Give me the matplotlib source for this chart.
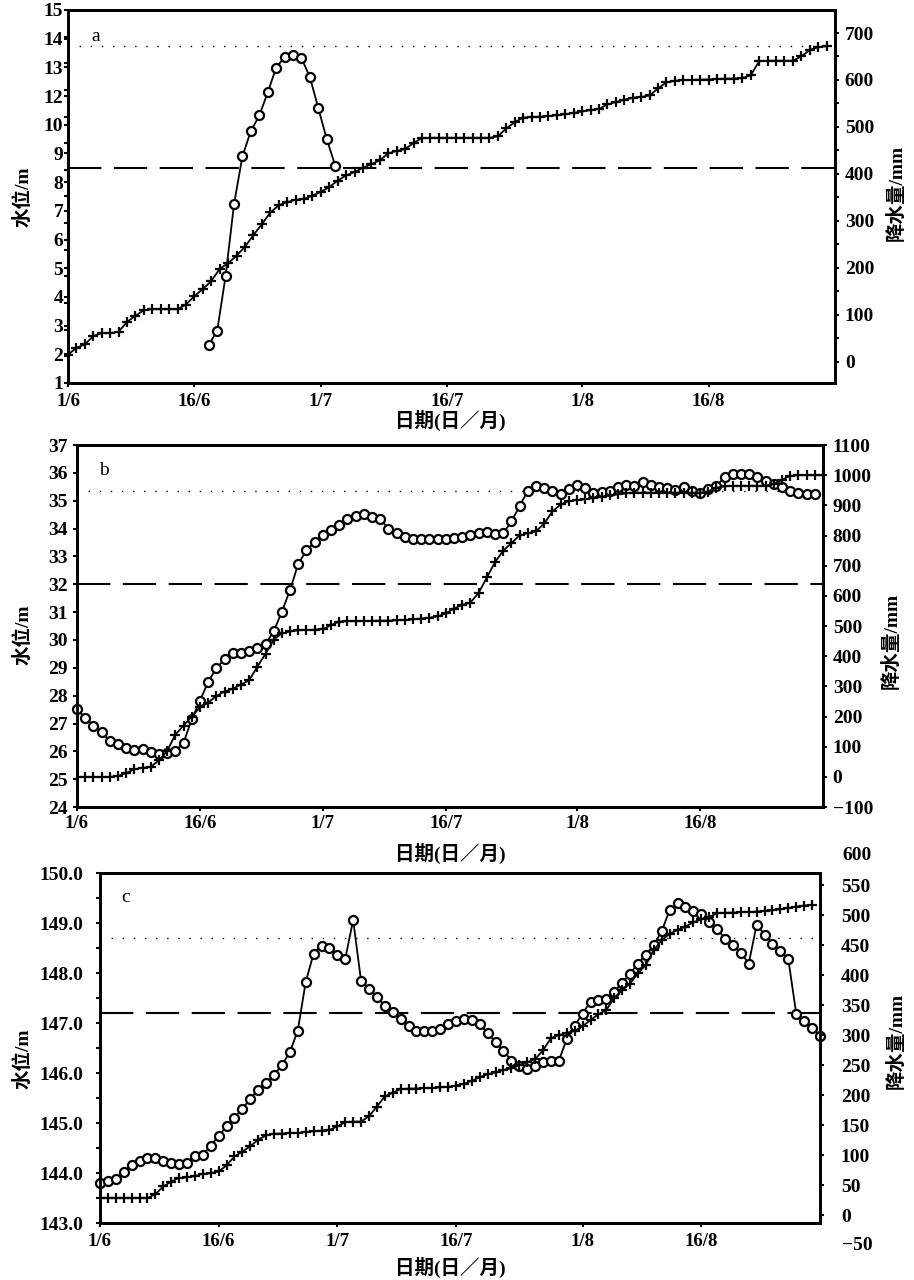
import matplotlib
matplotlib.use('Agg')
import matplotlib.pyplot as plt
import matplotlib.transforms as mtransforms
import numpy as np

plt.rcParams['font.family'] = ['Liberation Serif', 'Noto Sans CJK SC', 'DejaVu Sans']
plt.rcParams['font.weight'] = 'bold'
plt.rcParams['axes.linewidth'] = 2.0

# day number counted from 1 June
date_ticks = [0, 15, 30, 45, 61, 76]
date_labels = ['1/6', '16/6', '1/7', '16/7', '1/8', '16/8']

# ---- panel a ----
a_rain = [15, 30, 37, 55, 61, 61, 64, 85, 98, 110, 112, 112, 112, 112, 122, 140,
          155, 172, 198, 210, 226, 245, 270, 293, 318, 333, 340, 345, 347, 354,
          362, 372, 386, 397, 404, 413, 421, 429, 444, 449, 453, 466, 476, 477,
          477, 477, 477, 477, 477, 477, 477, 480, 497, 510, 520, 521, 522, 523,
          525, 527, 530, 533, 536, 538, 548, 553, 558, 562, 564, 567, 582, 595,
          598, 600, 600, 601, 601, 602, 603, 603, 604, 610, 640, 641, 641, 641,
          641, 650, 664, 670, 672]
a_lvl_start = 16.7
a_lvl = [2.43, 2.96, 5.02, 7.72, 9.52, 10.46, 11.04, 11.91, 12.84, 13.23, 13.32,
         13.19, 12.48, 11.31, 10.15, 9.16]
a_dotted = 13.65
a_dashed = 9.06
a_left_labels = ['1', '2', '3', '4', '5', '6', '7', '8', '9', '10', '12', '13', '14', '15']
a_right_ticks = [0, 100, 200, 300, 400, 500, 600, 700]

# ---- panel b ----
b_rain = [0, 0, 0, 0, 0, 3, 13, 25, 30, 33, 55, 86, 140, 170, 200, 230, 246, 268,
          283, 292, 306, 320, 365, 408, 455, 476, 482, 486, 487, 488, 490, 503,
          515, 516, 516, 517, 517, 518, 518, 519, 520, 522, 525, 528, 532, 542,
          558, 570, 578, 610, 661, 712, 750, 775, 801, 808, 814, 840, 880, 903,
          914, 918, 920, 925, 928, 933, 937, 940, 942, 942, 942, 942, 942, 942,
          942, 942, 942, 946, 959, 963, 965, 965, 965, 965, 965, 970, 985, 998,
          1000, 1000, 1000, 1000]
b_lvl = [27.51, 27.21, 26.91, 26.69, 26.37, 26.25, 26.13, 26.04, 26.09, 25.97,
         25.89, 25.95, 26.01, 26.31, 27.15, 27.81, 28.50, 28.98, 29.31, 29.53,
         29.52, 29.61, 29.71, 29.85, 30.31, 31.02, 31.80, 32.74, 33.22, 33.52,
         33.78, 33.94, 34.14, 34.36, 34.44, 34.54, 34.42, 34.34, 34.00, 33.84,
         33.70, 33.64, 33.62, 33.62, 33.62, 33.64, 33.68, 33.71, 33.77, 33.83,
         33.89, 33.80, 33.83, 34.26, 34.81, 35.36, 35.54, 35.45, 35.36, 35.23,
         35.42, 35.56, 35.44, 35.29, 35.32, 35.36, 35.48, 35.56, 35.54, 35.66,
         35.56, 35.48, 35.44, 35.39, 35.48, 35.36, 35.29, 35.42, 35.54, 35.84,
         35.97, 35.97, 35.97, 35.84, 35.72, 35.60, 35.48, 35.36, 35.29, 35.23,
         35.23]
b_dotted = 35.35
b_dashed = 32.02
b_left_ticks = list(range(24, 38))
b_right_ticks = list(range(-100, 1101, 100))

# ---- panel c ----
c_rain = [29, 29, 29, 29, 29, 29, 29, 35, 48, 56, 62, 63, 65, 69, 70, 73, 83, 98,
          106, 115, 126, 133, 136, 136, 137, 137, 139, 140, 141, 142, 148, 155,
          156, 156, 165, 181, 198, 204, 210, 211, 211, 212, 212, 213, 214, 216,
          219, 224, 230, 235, 238, 242, 245, 250, 255, 260, 275, 295, 300, 304,
          307, 315, 325, 335, 342, 362, 375, 386, 403, 417, 442, 458, 469, 475,
          481, 488, 493, 497, 503, 504, 504, 505, 505, 506, 507, 508, 510, 512,
          514, 516, 517]
c_lvl = [143.80, 143.84, 143.88, 144.02, 144.17, 144.24, 144.31, 144.31, 144.24,
         144.21, 144.19, 144.21, 144.34, 144.37, 144.55, 144.74, 144.94, 145.11,
         145.29, 145.48, 145.67, 145.81, 145.96, 146.16, 146.42, 146.85, 147.82,
         148.39, 148.55, 148.51, 148.37, 148.29, 149.06, 147.84, 147.69, 147.52,
         147.35, 147.22, 147.09, 146.95, 146.85, 146.85, 146.85, 146.88, 146.99,
         147.05, 147.09, 147.07, 146.98, 146.80, 146.62, 146.45, 146.25, 146.15,
         146.08, 146.15, 146.23, 146.25, 146.25, 146.68, 146.95, 147.19, 147.43,
         147.47, 147.49, 147.62, 147.81, 147.99, 148.19, 148.37, 148.56, 148.84,
         149.26, 149.40, 149.33, 149.24, 149.18, 149.03, 148.88, 148.69, 148.56,
         148.41, 148.19, 148.97, 148.77, 148.59, 148.44, 148.28, 147.19, 147.05,
         146.90, 146.75]
c_dotted = 148.71
c_dashed = 147.21
c_left_ticks = [143, 144, 145, 146, 147, 148, 149, 150]
c_right_ticks = list(range(0, 551, 50))
c_right_extra = [600, -50]

fig = plt.figure(figsize=(9.14, 12.8), dpi=100)
ax_a = fig.add_axes([0.0744, 0.7008, 0.8392, 0.2914])
ax_b = fig.add_axes([0.0842, 0.3695, 0.8162, 0.2828])
ax_c = fig.add_axes([0.1094, 0.0445, 0.7877, 0.2734])

num_font = dict(family='Liberation Serif', size=14, weight='bold')
x_font = dict(family='Liberation Serif', size=13.5, weight='bold')
lab_font = dict(size=14, weight='bold')


def draw_panel(ax, letter, lvl_days, lvl, rain, dotted, dashed, ylim, y2lim,
               lpad, rpad, xpad, lab_pos):
    ax.set_xlim(0, 91)
    ax.set_ylim(*ylim)
    ax.axhline(dotted, color='k', lw=1.0, ls=(0, (1, 7)))
    ax.axhline(dashed, color='k', lw=1.5, ls=(0, (16, 6)))
    ax.plot(lvl_days, lvl, '-o', color='k', mfc='white', mec='k', ms=6.5,
            mew=1.6, lw=1.3, clip_on=False, zorder=3)
    ax.set_xticks(date_ticks)
    ax.set_xticklabels(date_labels, **x_font)
    ax.tick_params(axis='x', direction='out', length=3, width=1.5, pad=xpad)
    ax.tick_params(axis='y', which='both', direction='out', width=1.5, pad=lpad)
    ax.tick_params(axis='y', which='major', length=3)
    ax.tick_params(axis='y', which='minor', length=3)
    ax.text(0.03, 0.93, letter, transform=ax.transAxes, family='Liberation Serif',
            size=14, weight='normal', va='center')
    ax.set_xlabel('日期(日／月)', **lab_font)
    ax.set_ylabel('水位/m', **lab_font)
    ax.xaxis.set_label_coords(*lab_pos[0])
    ax.yaxis.set_label_coords(*lab_pos[1])

    ax2 = ax.twinx()
    ax2.set_ylim(*y2lim)
    ax2.plot(np.arange(len(rain)), rain, '-+', color='k', ms=7, mew=1.6, lw=1.3,
             zorder=3)
    ax2.tick_params(axis='y', which='both', direction='out', width=1.5, length=3,
                    pad=rpad)
    ax2.set_ylabel('降水量/mm', rotation=90, **lab_font)
    ax2.yaxis.set_label_coords(*lab_pos[2])
    for sp in ax2.spines.values():
        sp.set_linewidth(2.0)
    return ax2


# panel a
a2 = draw_panel(ax_a, 'a', a_lvl_start + np.arange(len(a_lvl)), a_lvl, a_rain,
                a_dotted, a_dashed, (1, 15), (-45, 749), 0.5, 4, 4,
                [(0.498, -0.072), (-0.046, 0.50), (1.068, 0.51)])
ax_a.set_yticks(np.linspace(1, 15, len(a_left_labels)))
ax_a.set_yticklabels(a_left_labels, **num_font)
ax_a.set_yticks(np.arange(1, 16), minor=True)
a2.set_yticks(a_right_ticks)
a2.set_yticklabels([str(t) for t in a_right_ticks], **num_font)
a2.set_yticks(np.arange(-0, 750, 50), minor=True)

# panel b
b2 = draw_panel(ax_b, 'b', np.arange(len(b_lvl)), b_lvl, b_rain,
                b_dotted, b_dashed, (24, 37), (-100, 1100), 3.5, 4, 2.5,
                [(0.5, -0.099), (-0.060, 0.475), (1.079, 0.46)])
ax_b.set_yticks(b_left_ticks)
ax_b.set_yticklabels([str(t) for t in b_left_ticks], **num_font)
b2.set_yticks(b_right_ticks)
b2.set_yticklabels([str(t).replace('-', '\u2212') for t in b_right_ticks], **num_font)

# panel c
c2 = draw_panel(ax_c, 'c', np.arange(len(c_lvl)), c_lvl, c_rain,
                c_dotted, c_dashed, (143, 150), (-13, 570), 9, 12, 4,
                [(0.486, -0.097), (-0.094, 0.47), (1.093, 0.52)])
ax_c.set_yticks(c_left_ticks)
ax_c.set_yticklabels(['%.1f' % t for t in c_left_ticks], **num_font)
ax_c.set_yticks(np.arange(143, 150.01, 0.5), minor=True)
c2.set_yticks(c_right_ticks)
c2.set_yticklabels([str(t) for t in c_right_ticks], **num_font)
blend = mtransforms.blended_transform_factory(c2.transAxes, c2.transData)
for v in c_right_extra:
    c2.text(1.031, v, str(v).replace('-', '\u2212'), transform=blend, ha='left',
            va='center', clip_on=False, **num_font)

fig.savefig('out.png', dpi=100)
